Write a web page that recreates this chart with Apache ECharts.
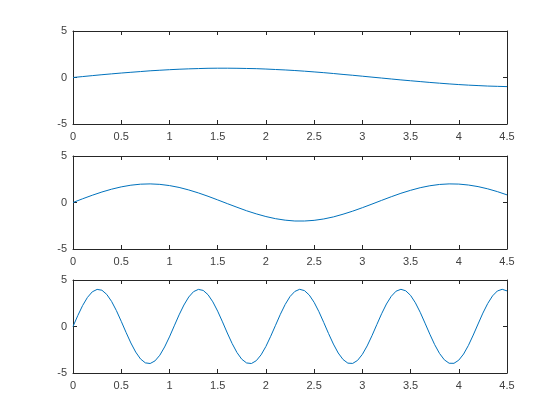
<!DOCTYPE html>
<html><head><meta charset="utf-8">
<script src="https://cdn.jsdelivr.net/npm/echarts@6/dist/echarts.min.js"></script>
<style>html,body{margin:0;padding:0;background:#fff}#c{width:560px;height:420px}</style>
</head><body><div id="c"></div>
<script>
const xTicks = [0,0.5,1,1.5,2,2.5,3,3.5,4,4.5];
const yTicks = [-5,0,5];
const x1 = [0,0.1,0.2,0.3,0.4,0.5,0.6,0.7,0.8,0.9,1.0,1.1,1.2,1.3,1.4,1.5,1.6,1.7,1.8,1.9,2.0,2.1,2.2,2.3,2.4,2.5,2.6,2.7,2.8,2.9,3.0,3.1,3.2,3.3,3.4,3.5,3.6,3.7,3.8,3.9,4.0,4.1,4.2,4.3,4.4,4.5];
const y1 = [0,0.10,0.20,0.30,0.39,0.48,0.56,0.64,0.72,0.78,0.84,0.89,0.93,0.96,0.99,1.00,1.00,0.99,0.97,0.95,0.91,0.86,0.81,0.75,0.68,0.60,0.52,0.43,0.33,0.24,0.14,0.04,-0.06,-0.16,-0.26,-0.35,-0.44,-0.53,-0.61,-0.69,-0.76,-0.82,-0.87,-0.92,-0.95,-0.98];
const y2 = [0,0.40,0.78,1.13,1.43,1.68,1.86,1.97,2.00,1.95,1.82,1.62,1.35,1.03,0.67,0.28,-0.12,-0.51,-0.89,-1.22,-1.51,-1.74,-1.90,-1.99,-1.99,-1.92,-1.77,-1.55,-1.26,-0.93,-0.56,-0.17,0.23,0.62,0.99,1.31,1.59,1.80,1.94,2.00,1.98,1.88,1.71,1.47,1.17,0.82];
const x3 = [0,0.05,0.1,0.15,0.2,0.25,0.3,0.35,0.4,0.45,0.5,0.55,0.6,0.65,0.7,0.75,0.8,0.85,0.9,0.95,1.0,1.05,1.1,1.15,1.2,1.25,1.3,1.35,1.4,1.45,1.5,1.55,1.6,1.65,1.7,1.75,1.8,1.85,1.9,1.95,2.0,2.05,2.1,2.15,2.2,2.25,2.3,2.35,2.4,2.45,2.5,2.55,2.6,2.65,2.7,2.75,2.8,2.85,2.9,2.95,3.0,3.05,3.1,3.15,3.2,3.25,3.3,3.35,3.4,3.45,3.5,3.55,3.6,3.65,3.7,3.75,3.8,3.85,3.9,3.95,4.0,4.05,4.1,4.15,4.2,4.25,4.3,4.35,4.4,4.45,4.5];
const y3 = [0,1.18,2.26,3.13,3.73,3.99,3.90,3.45,2.70,1.71,0.56,-0.63,-1.77,-2.75,-3.49,-3.91,-3.98,-3.70,-3.09,-2.20,-1.12,0.07,1.25,2.31,3.17,3.75,3.99,3.88,3.42,2.65,1.65,0.50,-0.70,-1.83,-2.80,-3.52,-3.92,-3.98,-3.68,-3.05,-2.15,-1.05,0.13,1.31,2.37,3.22,3.77,4.00,3.86,3.38,2.60,1.59,0.43,-0.76,-1.89,-2.85,-3.55,-3.94,-3.97,-3.65,-3.00,-2.09,-0.99,0.20,1.37,2.42,3.25,3.80,4.00,3.84,3.35,2.55,1.53,0.36,-0.83,-1.95,-2.89,-3.58,-3.95,-3.96,-3.62,-2.96,-2.03,-0.92,0.27,1.44,2.47,3.29,3.82,4.00,3.83];

const panels = [[x1,y1],[x1,y2],[x3,y3]];
const tops = [31, 156, 280];
const axColor = '#262626';
const lblColor = '#404040';
const font = 'Helvetica, Arial, "Liberation Sans", sans-serif';

const grid = [], xAxis = [], yAxis = [], series = [];
panels.forEach((p, i) => {
  grid.push({left: 73, width: 434, top: tops[i], height: 93});
  const xb = {
    type: 'value', gridIndex: i, min: 0, max: 4.5, interval: 0.5,
    axisLine: {show: true, onZero: false, lineStyle: {color: axColor, width: 1}},
    axisTick: {show: true, inside: true, length: 4, lineStyle: {color: axColor}},
    splitLine: {show: false},
    axisLabel: {color: lblColor, fontSize: 11, fontFamily: font, margin: 7,
      formatter: v => xTicks.includes(v) ? String(v) : ''}
  };
  xAxis.push(Object.assign({position: 'bottom'}, xb));
  xAxis.push(Object.assign({}, xb, {position: 'top', axisLabel: {show: false}}));
  const yb = {
    type: 'value', gridIndex: i, min: -5, max: 5, interval: 5,
    axisLine: {show: true, onZero: false, lineStyle: {color: axColor, width: 1}},
    axisTick: {show: true, inside: true, length: 4, lineStyle: {color: axColor}},
    splitLine: {show: false},
    axisLabel: {color: lblColor, fontSize: 11, fontFamily: font, margin: 6,
      formatter: v => yTicks.includes(v) ? String(v) : ''}
  };
  yAxis.push(Object.assign({position: 'left'}, yb));
  yAxis.push(Object.assign({}, yb, {position: 'right', axisLabel: {show: false}}));
  series.push({
    type: 'line', xAxisIndex: 2*i, yAxisIndex: 2*i,
    data: p[0].map((x, k) => [x, p[1][k]]),
    showSymbol: false, symbol: 'none', smooth: false,
    lineStyle: {color: '#0072BD', width: 1}, animation: false
  });
});

const chart = echarts.init(document.getElementById('c'), null, {renderer: 'canvas'});
chart.setOption({animation: false, backgroundColor: '#fff', grid, xAxis, yAxis, series});
</script></body></html>
